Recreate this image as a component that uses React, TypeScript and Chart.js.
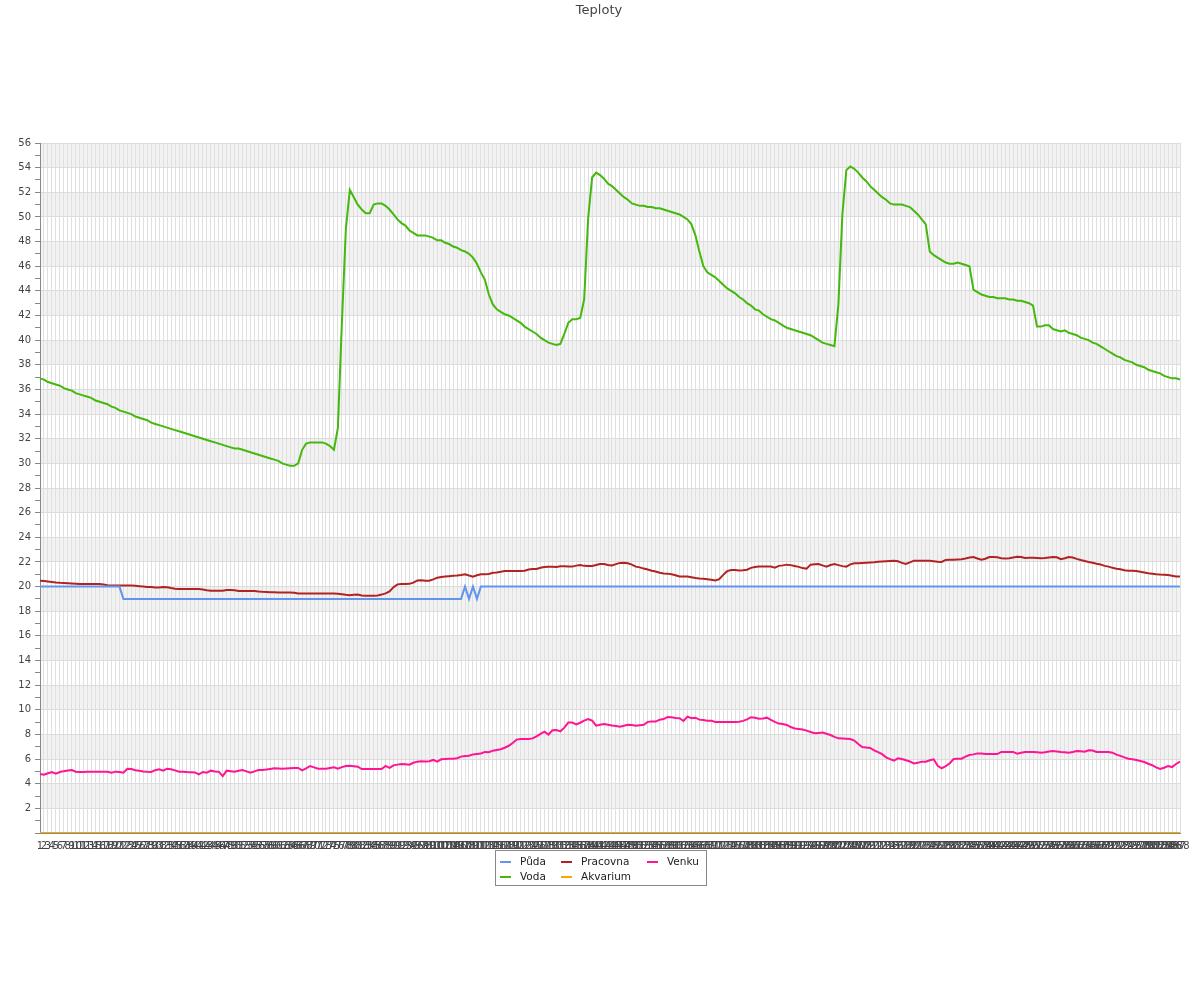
import React, { useEffect, useRef } from 'react';
import { Chart, registerables } from 'chart.js';

Chart.register(...registerables);

const chartTitle = 'Teploty';

const categories: string[] = Array.from({ length: 288 }, (_, i) => String(i + 1));

const yTicks: number[] = [2, 4, 6, 8, 10, 12, 14, 16, 18, 20, 22, 24, 26, 28, 30, 32, 34, 36, 38, 40, 42, 44, 46, 48, 50, 52, 54, 56];

const puda: number[] = [
  20, 20, 20, 20, 20, 20, 20, 20, 20, 20, 20, 20, 20, 20, 20, 20, 20, 20, 20, 20, 20, 19, 19, 19,
  19, 19, 19, 19, 19, 19, 19, 19, 19, 19, 19, 19, 19, 19, 19, 19, 19, 19, 19, 19, 19, 19, 19, 19,
  19, 19, 19, 19, 19, 19, 19, 19, 19, 19, 19, 19, 19, 19, 19, 19, 19, 19, 19, 19, 19, 19, 19, 19,
  19, 19, 19, 19, 19, 19, 19, 19, 19, 19, 19, 19, 19, 19, 19, 19, 19, 19, 19, 19, 19, 19, 19, 19,
  19, 19, 19, 19, 19, 19, 19, 19, 19, 19, 19, 20, 19, 20, 19, 20, 20, 20, 20, 20, 20, 20, 20, 20,
  20, 20, 20, 20, 20, 20, 20, 20, 20, 20, 20, 20, 20, 20, 20, 20, 20, 20, 20, 20, 20, 20, 20, 20,
  20, 20, 20, 20, 20, 20, 20, 20, 20, 20, 20, 20, 20, 20, 20, 20, 20, 20, 20, 20, 20, 20, 20, 20,
  20, 20, 20, 20, 20, 20, 20, 20, 20, 20, 20, 20, 20, 20, 20, 20, 20, 20, 20, 20, 20, 20, 20, 20,
  20, 20, 20, 20, 20, 20, 20, 20, 20, 20, 20, 20, 20, 20, 20, 20, 20, 20, 20, 20, 20, 20, 20, 20,
  20, 20, 20, 20, 20, 20, 20, 20, 20, 20, 20, 20, 20, 20, 20, 20, 20, 20, 20, 20, 20, 20, 20, 20,
  20, 20, 20, 20, 20, 20, 20, 20, 20, 20, 20, 20, 20, 20, 20, 20, 20, 20, 20, 20, 20, 20, 20, 20,
  20, 20, 20, 20, 20, 20, 20, 20, 20, 20, 20, 20, 20, 20, 20, 20, 20, 20, 20, 20, 20, 20, 20, 20,
];

const voda: number[] = [
  36.9, 36.8, 36.6, 36.5, 36.4, 36.3, 36.1, 36.0, 35.9, 35.7,
  35.6, 35.5, 35.4, 35.3, 35.1, 35.0, 34.9, 34.8, 34.6, 34.5,
  34.3, 34.2, 34.1, 34.0, 33.8, 33.7, 33.6, 33.5, 33.3, 33.2,
  33.1, 33.0, 32.9, 32.8, 32.7, 32.6, 32.5, 32.4, 32.3, 32.2,
  32.1, 32.0, 31.9, 31.8, 31.7, 31.6, 31.5, 31.4, 31.3, 31.2,
  31.2, 31.1, 31.0, 30.9, 30.8, 30.7, 30.6, 30.5, 30.4, 30.3,
  30.2, 30.0, 29.9, 29.8, 29.8, 30.0, 31.1, 31.6, 31.7, 31.7,
  31.7, 31.7, 31.6, 31.4, 31.1, 32.9, 41.4, 49.0, 52.2, 51.6,
  51.0, 50.6, 50.3, 50.3, 51.0, 51.1, 51.1, 50.9, 50.6, 50.2,
  49.8, 49.5, 49.3, 48.9, 48.7, 48.5, 48.5, 48.5, 48.4, 48.3,
  48.1, 48.1, 47.9, 47.8, 47.6, 47.5, 47.3, 47.2, 47.0, 46.7,
  46.2, 45.5, 44.9, 43.7, 42.9, 42.5, 42.3, 42.1, 42.0, 41.8,
  41.6, 41.4, 41.1, 40.9, 40.7, 40.5, 40.2, 40.0, 39.8, 39.7,
  39.6, 39.7, 40.5, 41.4, 41.7, 41.7, 41.8, 43.3, 49.9, 53.2,
  53.6, 53.4, 53.1, 52.7, 52.5, 52.2, 51.9, 51.6, 51.4, 51.1,
  51.0, 50.9, 50.9, 50.8, 50.8, 50.7, 50.7, 50.6, 50.5, 50.4,
  50.3, 50.2, 50.0, 49.8, 49.4, 48.5, 47.2, 46.0, 45.5, 45.3,
  45.1, 44.8, 44.5, 44.2, 44.0, 43.8, 43.5, 43.3, 43.0, 42.8,
  42.5, 42.4, 42.1, 41.9, 41.7, 41.6, 41.4, 41.2, 41.0, 40.9,
  40.8, 40.7, 40.6, 40.5, 40.4, 40.2, 40.0, 39.8, 39.7, 39.6,
  39.5, 42.9, 50.2, 53.8, 54.1, 53.9, 53.6, 53.2, 52.9, 52.5,
  52.2, 51.9, 51.6, 51.4, 51.1, 51.0, 51.0, 51.0, 50.9, 50.8,
  50.5, 50.2, 49.8, 49.4, 47.2, 46.9, 46.7, 46.5, 46.3, 46.2,
  46.2, 46.3, 46.2, 46.1, 46.0, 44.1, 43.9, 43.7, 43.6, 43.5,
  43.5, 43.4, 43.4, 43.4, 43.3, 43.3, 43.2, 43.2, 43.1, 43.0,
  42.8, 41.1, 41.1, 41.2, 41.2, 40.9, 40.8, 40.7, 40.8, 40.6,
  40.5, 40.4, 40.2, 40.1, 40.0, 39.8, 39.7, 39.5, 39.3, 39.1,
  38.9, 38.7, 38.6, 38.4, 38.3, 38.2, 38.0, 37.9, 37.8, 37.6,
  37.5, 37.4, 37.3, 37.1, 37.0, 36.9, 36.9, 36.8,
];

const pracovna: number[] = [
  20.48, 20.46, 20.42, 20.38, 20.34, 20.31, 20.29, 20.27, 20.25, 20.23,
  20.21, 20.21, 20.21, 20.21, 20.21, 20.21, 20.16, 20.10, 20.08, 20.08,
  20.08, 20.08, 20.08, 20.08, 20.06, 20.03, 20.0, 19.97, 19.96, 19.93,
  19.92, 19.97, 19.95, 19.88, 19.83, 19.81, 19.81, 19.81, 19.81, 19.81,
  19.80, 19.76, 19.71, 19.67, 19.67, 19.67, 19.67, 19.72, 19.72, 19.70,
  19.65, 19.64, 19.64, 19.64, 19.64, 19.60, 19.57, 19.55, 19.53, 19.53,
  19.52, 19.52, 19.51, 19.51, 19.50, 19.43, 19.43, 19.43, 19.43, 19.43,
  19.43, 19.43, 19.43, 19.43, 19.43, 19.42, 19.38, 19.33, 19.30, 19.33,
  19.35, 19.28, 19.26, 19.26, 19.26, 19.28, 19.35, 19.45, 19.60, 19.95,
  20.18, 20.21, 20.21, 20.22, 20.32, 20.50, 20.52, 20.47, 20.47, 20.58,
  20.72, 20.78, 20.81, 20.84, 20.87, 20.90, 20.94, 21.0, 20.90, 20.81,
  20.92, 21.0, 21.01, 21.02, 21.12, 21.14, 21.20, 21.27, 21.27, 21.27,
  21.27, 21.27, 21.28, 21.38, 21.42, 21.43, 21.52, 21.58, 21.60, 21.60,
  21.58, 21.64, 21.64, 21.63, 21.62, 21.70, 21.75, 21.68, 21.67, 21.67,
  21.75, 21.83, 21.83, 21.75, 21.72, 21.82, 21.92, 21.93, 21.89, 21.78,
  21.62, 21.56, 21.46, 21.38, 21.29, 21.22, 21.12, 21.07, 21.05, 21.0,
  20.92, 20.82, 20.81, 20.81, 20.75, 20.69, 20.66, 20.64, 20.60, 20.56,
  20.50, 20.60, 20.95, 21.25, 21.35, 21.35, 21.30, 21.32, 21.37, 21.52,
  21.58, 21.62, 21.63, 21.63, 21.62, 21.54, 21.68, 21.72, 21.78, 21.74,
  21.67, 21.60, 21.50, 21.45, 21.78, 21.82, 21.83, 21.72, 21.62, 21.75,
  21.82, 21.74, 21.66, 21.62, 21.80, 21.89, 21.90, 21.92, 21.94, 21.96,
  21.98, 22.02, 22.04, 22.06, 22.08, 22.1, 22.05, 21.92, 21.83, 21.97,
  22.1, 22.1, 22.1, 22.1, 22.1, 22.06, 22.02, 22.0, 22.16, 22.18,
  22.18, 22.2, 22.22, 22.28, 22.36, 22.4, 22.28, 22.18, 22.26, 22.4,
  22.4, 22.38, 22.3, 22.28, 22.3, 22.36, 22.42, 22.4, 22.32, 22.34,
  22.34, 22.32, 22.3, 22.32, 22.36, 22.4, 22.38, 22.22, 22.3, 22.4,
  22.36, 22.25, 22.16, 22.08, 22.0, 21.93, 21.86, 21.80, 21.68, 21.62,
  21.52, 21.45, 21.40, 21.32, 21.29, 21.28, 21.27, 21.20, 21.14, 21.08,
  21.04, 21.0, 20.97, 20.96, 20.94, 20.88, 20.81, 20.81,
];

const akvarium: number[] = [
  0, 0, 0, 0, 0, 0, 0, 0, 0, 0, 0, 0, 0, 0, 0, 0, 0, 0, 0, 0, 0, 0, 0, 0,
  0, 0, 0, 0, 0, 0, 0, 0, 0, 0, 0, 0, 0, 0, 0, 0, 0, 0, 0, 0, 0, 0, 0, 0,
  0, 0, 0, 0, 0, 0, 0, 0, 0, 0, 0, 0, 0, 0, 0, 0, 0, 0, 0, 0, 0, 0, 0, 0,
  0, 0, 0, 0, 0, 0, 0, 0, 0, 0, 0, 0, 0, 0, 0, 0, 0, 0, 0, 0, 0, 0, 0, 0,
  0, 0, 0, 0, 0, 0, 0, 0, 0, 0, 0, 0, 0, 0, 0, 0, 0, 0, 0, 0, 0, 0, 0, 0,
  0, 0, 0, 0, 0, 0, 0, 0, 0, 0, 0, 0, 0, 0, 0, 0, 0, 0, 0, 0, 0, 0, 0, 0,
  0, 0, 0, 0, 0, 0, 0, 0, 0, 0, 0, 0, 0, 0, 0, 0, 0, 0, 0, 0, 0, 0, 0, 0,
  0, 0, 0, 0, 0, 0, 0, 0, 0, 0, 0, 0, 0, 0, 0, 0, 0, 0, 0, 0, 0, 0, 0, 0,
  0, 0, 0, 0, 0, 0, 0, 0, 0, 0, 0, 0, 0, 0, 0, 0, 0, 0, 0, 0, 0, 0, 0, 0,
  0, 0, 0, 0, 0, 0, 0, 0, 0, 0, 0, 0, 0, 0, 0, 0, 0, 0, 0, 0, 0, 0, 0, 0,
  0, 0, 0, 0, 0, 0, 0, 0, 0, 0, 0, 0, 0, 0, 0, 0, 0, 0, 0, 0, 0, 0, 0, 0,
  0, 0, 0, 0, 0, 0, 0, 0, 0, 0, 0, 0, 0, 0, 0, 0, 0, 0, 0, 0, 0, 0, 0, 0,
];

const venku: number[] = [
  4.79, 4.73, 4.85, 4.95, 4.82, 4.95, 5.02, 5.08, 5.11, 4.97,
  4.95, 4.95, 4.97, 4.97, 4.97, 4.97, 4.97, 4.97, 4.89, 4.98,
  4.95, 4.89, 5.22, 5.19, 5.10, 5.05, 5.0, 4.97, 4.95, 5.10,
  5.17, 5.06, 5.22, 5.17, 5.08, 4.97, 4.97, 4.95, 4.94, 4.92,
  4.76, 4.95, 4.89, 5.06, 5.0, 4.98, 4.62, 5.06, 5.02, 4.97,
  5.05, 5.11, 5.0, 4.89, 5.0, 5.11, 5.11, 5.15, 5.20, 5.25,
  5.24, 5.22, 5.24, 5.26, 5.27, 5.28, 5.08, 5.25, 5.44, 5.33,
  5.22, 5.22, 5.22, 5.28, 5.33, 5.22, 5.35, 5.44, 5.46, 5.42,
  5.38, 5.19, 5.19, 5.19, 5.19, 5.19, 5.19, 5.44, 5.28, 5.49,
  5.55, 5.6, 5.57, 5.54, 5.70, 5.79, 5.82, 5.80, 5.82, 5.93,
  5.79, 5.98, 6.0, 6.02, 6.03, 6.07, 6.20, 6.25, 6.27, 6.38,
  6.42, 6.45, 6.58, 6.55, 6.68, 6.74, 6.80, 6.92, 7.08, 7.30,
  7.58, 7.63, 7.63, 7.63, 7.68, 7.85, 8.05, 8.22, 7.98, 8.34,
  8.36, 8.25, 8.55, 8.96, 8.96, 8.82, 8.95, 9.12, 9.25, 9.12,
  8.71, 8.78, 8.85, 8.79, 8.72, 8.68, 8.63, 8.70, 8.78, 8.76,
  8.71, 8.75, 8.79, 9.02, 9.04, 9.04, 9.20, 9.25, 9.42, 9.40,
  9.33, 9.31, 9.09, 9.44, 9.31, 9.36, 9.20, 9.17, 9.12, 9.12,
  9.01, 9.01, 9.01, 9.01, 9.01, 9.01, 9.03, 9.10, 9.22, 9.40,
  9.35, 9.28, 9.30, 9.36, 9.18, 9.02, 8.88, 8.84, 8.77, 8.60,
  8.48, 8.44, 8.40, 8.31, 8.20, 8.09, 8.12, 8.15, 8.05, 7.95,
  7.80, 7.68, 7.66, 7.64, 7.62, 7.50, 7.22, 6.98, 6.93, 6.90,
  6.70, 6.56, 6.40, 6.14, 6.00, 5.88, 6.06, 6.00, 5.90, 5.80,
  5.65, 5.70, 5.79, 5.79, 5.90, 5.98, 5.46, 5.25, 5.42, 5.65,
  6.00, 6.03, 6.03, 6.20, 6.33, 6.38, 6.46, 6.45, 6.41, 6.41,
  6.41, 6.41, 6.58, 6.58, 6.58, 6.58, 6.44, 6.52, 6.58, 6.58,
  6.58, 6.56, 6.52, 6.56, 6.62, 6.66, 6.62, 6.58, 6.55, 6.52,
  6.58, 6.66, 6.63, 6.60, 6.72, 6.70, 6.58, 6.58, 6.58, 6.58,
  6.52, 6.36, 6.26, 6.14, 6.03, 5.98, 5.92, 5.84, 5.76, 5.62,
  5.50, 5.32, 5.19, 5.30, 5.44, 5.35, 5.60, 5.79,
];

const FONT = "'DejaVu Sans', sans-serif";

// legend layout: [column x, row y] per dataset index
const legendSlots: [number, number][] = [
  [500, 862], // Půda
  [500, 877], // Voda
  [561, 862], // Pracovna
  [561, 877], // Akvarium
  [647, 862], // Venku
];

const bandsPlugin = {
  id: 'bands',
  beforeDraw(chart: any) {
    const { ctx, chartArea } = chart;
    const y = chart.scales.y;
    ctx.save();
    ctx.fillStyle = '#f2f2f2';
    for (let v = 2; v < 56; v += 4) {
      const top = y.getPixelForValue(v + 2);
      const bottom = y.getPixelForValue(v);
      ctx.fillRect(chartArea.left, top, chartArea.right - chartArea.left, bottom - top);
    }
    ctx.restore();
  },
};

const titlePlugin = {
  id: 'pageTitle',
  afterDraw(chart: any) {
    const { ctx } = chart;
    ctx.save();
    ctx.font = `13px ${FONT}`;
    ctx.fillStyle = '#444444';
    ctx.textAlign = 'center';
    ctx.textBaseline = 'middle';
    ctx.fillText(chartTitle, 599, 11);
    ctx.restore();
  },
};

const legendPlugin = {
  id: 'boxLegend',
  afterDraw(chart: any) {
    const { ctx } = chart;
    ctx.save();
    ctx.fillStyle = '#ffffff';
    ctx.fillRect(495.5, 850.5, 211, 35);
    ctx.strokeStyle = '#888888';
    ctx.lineWidth = 1;
    ctx.strokeRect(495.5, 850.5, 211, 35);
    ctx.font = `10.5px ${FONT}`;
    ctx.textBaseline = 'middle';
    ctx.textAlign = 'left';
    chart.data.datasets.forEach((ds: any, i: number) => {
      const [x, y] = legendSlots[i];
      ctx.strokeStyle = ds.borderColor;
      ctx.lineWidth = 2;
      ctx.beginPath();
      ctx.moveTo(x, y);
      ctx.lineTo(x + 11, y);
      ctx.stroke();
      ctx.fillStyle = '#222222';
      ctx.fillText(ds.label, x + 20, y);
    });
    ctx.restore();
  },
};

export default function App() {
  const ref = useRef<HTMLCanvasElement>(null);

  useEffect(() => {
    document.body.style.margin = '0';
    const line = (label: string, data: number[], color: string) => ({
      label,
      data,
      borderColor: color,
      backgroundColor: color,
      borderWidth: 2,
      pointRadius: 0,
      pointHoverRadius: 0,
      tension: 0,
      fill: false,
    });
    const chart = new Chart(ref.current as HTMLCanvasElement, {
      type: 'line',
      data: {
        labels: categories,
        datasets: [
          line('Půda', puda, '#6495ED'),
          line('Voda', voda, '#44B80C'),
          line('Pracovna', pracovna, '#B22222'),
          line('Akvarium', akvarium, '#FFA500'),
          line('Venku', venku, '#FF1493'),
        ],
      },
      options: {
        animation: false,
        responsive: true,
        maintainAspectRatio: false,
        layout: { padding: { left: 0, right: 20, top: 143, bottom: 147 } },
        plugins: {
          legend: { display: false },
          tooltip: { enabled: false },
          title: { display: false },
        },
        scales: {
          x: {
            type: 'category',
            offset: false,
            afterFit: (s: any) => { s.height = 20; },
            grid: { color: '#e0e0e0', lineWidth: 1, drawTicks: false },
            border: { color: '#888888' },
            ticks: {
              autoSkip: false,
              maxRotation: 0,
              minRotation: 0,
              padding: 7,
              color: '#444444',
              font: { family: FONT, size: 10 },
            },
          },
          y: {
            min: 0,
            max: 56,
            afterFit: (s: any) => { s.width = 40; },
            grid: {
              color: (c: any) => (c.tick && c.tick.value % 2 === 0 ? '#dcdcdc' : 'rgba(0,0,0,0)'),
              tickColor: '#888888',
              tickLength: 5,
            },
            border: { color: '#888888' },
            ticks: {
              stepSize: 1,
              autoSkip: false,
              padding: 4,
              color: '#444444',
              font: { family: FONT, size: 10 },
              callback: (v: any) => (yTicks.includes(Number(v)) ? String(v) : ''),
            },
          },
        },
      },
      plugins: [bandsPlugin, titlePlugin, legendPlugin],
    });
    return () => chart.destroy();
  }, []);

  return (
    <div style={{ position: 'absolute', left: 0, top: 0, width: 1200, height: 1000 }}>
      <canvas ref={ref} />
    </div>
  );
}
